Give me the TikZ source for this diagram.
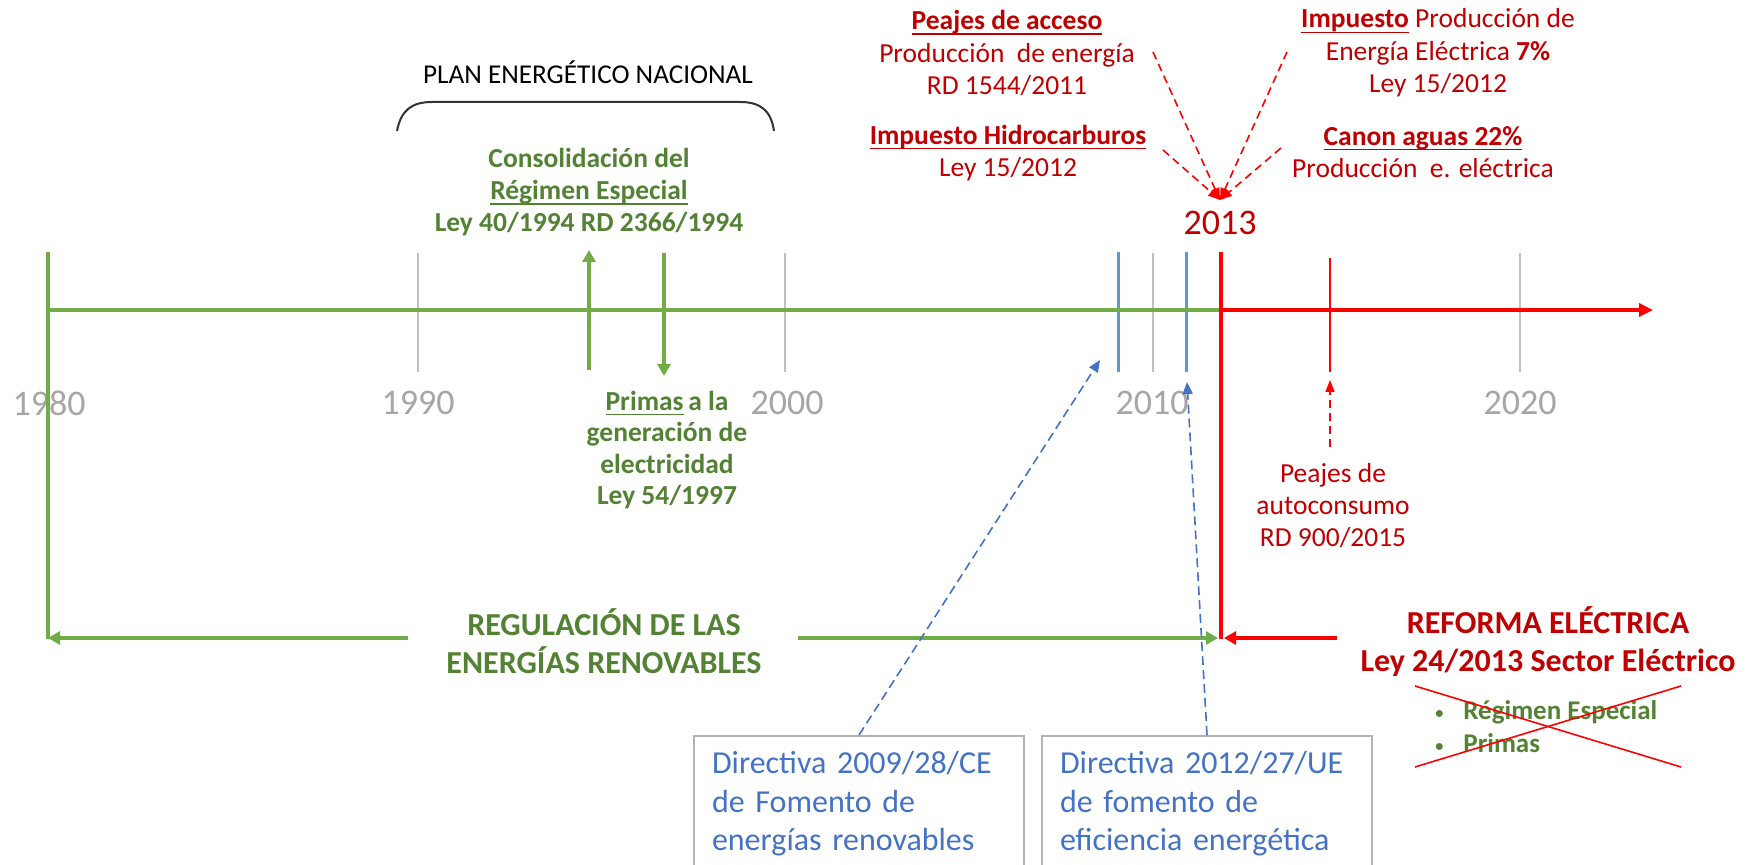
\documentclass[tikz,border=0pt]{standalone}
\usepackage{fontspec}
\setmainfont{Carlito}
\usetikzlibrary{arrows.meta}
\definecolor{lgreen}{HTML}{70AD47}
\definecolor{dgreen}{HTML}{548235}
\definecolor{bred}{HTML}{FF0000}
\definecolor{dred}{HTML}{C00000}
\definecolor{lblue}{HTML}{5B9BD5}
\definecolor{dblue}{HTML}{4472C4}
\definecolor{tgray}{HTML}{BFBFBF}
\definecolor{ygray}{HTML}{A6A6A6}
\definecolor{bgray}{HTML}{B4B4B4}
\newcommand{\myul}[1]{\setbox0\hbox{#1}\rlap{\rule[-2.6pt]{\wd0}{0.7pt}}\box0}
\newcommand{\mybul}{\makebox[15pt][l]{\hspace{1pt}\raisebox{0.9ex}{\rule{0pt}{0pt}}\raisebox{0.12ex}{\scalebox{0.6}{•}}}}
\begin{document}
\begin{tikzpicture}[x=0.5pt,y=-0.5pt,
  yearlbl/.style={font=\fontsize{18}{20}\selectfont, text=ygray, inner sep=0},
  gtxt/.style={font=\bfseries\fontsize{13.75}{16}\selectfont, text=dgreen, align=center, inner sep=0},
  rtxt/.style={font=\fontsize{13.75}{16.25}\selectfont, text=dred, align=center, inner sep=0},
  bigtxt/.style={font=\bfseries\fontsize{16}{19}\selectfont, align=center, inner sep=0},
  yeartick/.style={tgray, line width=1pt},
  thick line/.style={line width=1.65pt},
  gtip/.style={-{Triangle[length=6pt,width=6.5pt]}},
  rdash/.style={bred, line width=0.8pt, dash pattern=on 4pt off 2.5pt, -{Triangle[length=6pt,width=4.5pt]}},
  bdash/.style={dblue, line width=0.8pt, dash pattern=on 4.5pt off 2.5pt, -{Triangle[length=6pt,width=5pt]}},
  dbox/.style={draw=bgray, line width=1pt, text=dblue, font=\fontsize{16}{19.25}\selectfont,
    text width=147pt, inner xsep=9pt, inner ysep=5.5pt, align=left, anchor=north west}
]
\path[use as bounding box] (0,0) rectangle (1751,865);
\clip (0,0) rectangle (1751,865);
\fill[white] (0,0) rectangle (1751,865);

% ---- plan energetico
\node[font=\fontsize{13.6}{16}\selectfont, inner sep=0] (plan) at (588,72) {PLAN ENERGÉTICO NACIONAL};
\draw[line width=1pt, black!80] (397,131) .. controls (401,110) and (412,102) .. (432,102) -- (740,102) .. controls (760,102) and (771,110) .. (774,131);

\node[gtxt] (cons) at (589,192) {Consolidación del\\\myul{Régimen Especial}\\Ley 40/1994 RD 2366/1994};
\node[gtxt, font=\bfseries\fontsize{13.75}{15.75}\selectfont] (primas) at (667,450) {\myul{Primas}\,a la\\generación de\\electricidad\\Ley 54/1997};

% ---- year labels
\node[yearlbl] (y1980) at (49,403) {1980};
\node[yearlbl] (y1990) at (418,403) {1990};
\node[yearlbl] (y2000) at (787,403) {2000};
\node[yearlbl] (y2010) at (1152,403) {2010};
\node[yearlbl] (y2020) at (1520,403) {2020};

% ---- ticks
\draw[yeartick] (418,253) -- (418,372);
\draw[yeartick] (785,253) -- (785,372);
\draw[yeartick] (1153,253) -- (1153,372);
\draw[yeartick] (1520,253) -- (1520,372);
\draw[lblue, line width=1.5pt] (1118,252) -- (1118,372);
\draw[lblue, line width=1.5pt] (1186,252) -- (1186,372);
\draw[bred, line width=1pt] (1330,258) -- (1330,372);

% ---- main timeline
\coordinate (t0) at (48,310);
\coordinate (t13) at (1221,310);
\coordinate (tend) at (1653,310);
\draw[lgreen, thick line] (t0) -- (t13);
\draw[bred, thick line, -{Triangle[length=7pt,width=6.5pt]}] (t13) -- (tend);
\draw[lgreen, thick line] (48,252) -- (48,639);
\draw[bred, thick line] (1221,252) -- (1221,639);

% ---- green arrows
\coordinate (ua0) at (589,370);
\coordinate (ua1) at (589,250);
\coordinate (da0) at (664,253);
\coordinate (da1) at (664,376);
\draw[lgreen, thick line, gtip] (ua0) -- (ua1);
\draw[lgreen, thick line, gtip] (da0) -- (da1);

% ---- 2013 and red texts
\node[font=\fontsize{18}{20}\selectfont, text=dred, inner sep=0] (y2013) at (1220,223) {2013};
\node[rtxt] (peajes) at (1007,53) {\textbf{\myul{Peajes de acceso}}\\Producción\ \ de energía\\RD 1544/2011};
\node[rtxt] (hidro) at (1008,153) {\textbf{\myul{Impuesto Hidrocarburos}}\\Ley 15/2012};
\node[rtxt] (impuesto) at (1438,53) {\textbf{\myul{Impuesto}} Producción de\\Energía Eléctrica \textbf{7\%}\\Ley 15/2012};
\node[rtxt] (canon) at (1423,152) {\textbf{\myul{Canon aguas 22\%}}\\Producción\ \ e. eléctrica};

\coordinate (tip13) at (1220,200);
\coordinate (s1) at (1153,52);
\coordinate (s2) at (1287,52);
\coordinate (s3) at (1163,150);
\coordinate (s4) at (1281,148);
\draw[rdash] (s1) -- (tip13);
\draw[rdash] (s2) -- (tip13);
\draw[rdash] (s3) -- (tip13);
\draw[rdash] (s4) -- (tip13);

\node[rtxt, font=\fontsize{13.75}{16}\selectfont] (auto) at (1333,506) {Peajes de\\autoconsumo\\RD 900/2015};
\coordinate (autoS) at (1330,447);
\coordinate (autoT) at (1330,380);
\draw[rdash] (autoS) -- (autoT);

% ---- bottom arrows
\node[bigtxt, text=dgreen] (regul) at (604,641) {REGULACIÓN DE LAS\\ENERGÍAS RENOVABLES};
\node[bigtxt, text=dred] (reforma) at (1548,642) {REFORMA ELÉCTRICA\\Ley 24/2013 Sector Eléctrico};
\coordinate (bl0) at (408,638);
\coordinate (bl1) at (48,638);
\coordinate (br0) at (798,638);
\coordinate (br1) at (1218,638);
\coordinate (rr0) at (1337,638);
\coordinate (rr1) at (1224,638);
\draw[lgreen, thick line, gtip] (bl0) -- (bl1);
\draw[lgreen, thick line, gtip] (br0) -- (br1);
\draw[bred, thick line, gtip] (rr0) -- (rr1);

% ---- crossed list
\node[font=\bfseries\fontsize{13.5}{16.5}\selectfont, text=dgreen, align=left, inner sep=0, anchor=west] (list) at (1433,727)
  {\mybul Régimen Especial\\\mybul Primas};
\draw[bred, line width=0.8pt] (1415,686) -- (1681,767);
\draw[bred, line width=0.8pt] (1415,767) -- (1681,686);

% ---- directive boxes
\node[dbox] (d1) at (693,735) {\strut Directiva 2009/28/CE\\de Fomento de\\energías renovables\rule[-40pt]{0pt}{40pt}};
\node[dbox] (d2) at (1041,735) {\strut Directiva 2012/27/UE\\de fomento de\\eficiencia energética\rule[-40pt]{0pt}{40pt}};
\coordinate (bt1) at (1100,360);
\coordinate (bt2) at (1187,382);
\draw[bdash] (d1.north) -- (bt1);
\draw[bdash] (d2.north) -- (bt2);
\end{tikzpicture}
\end{document}
